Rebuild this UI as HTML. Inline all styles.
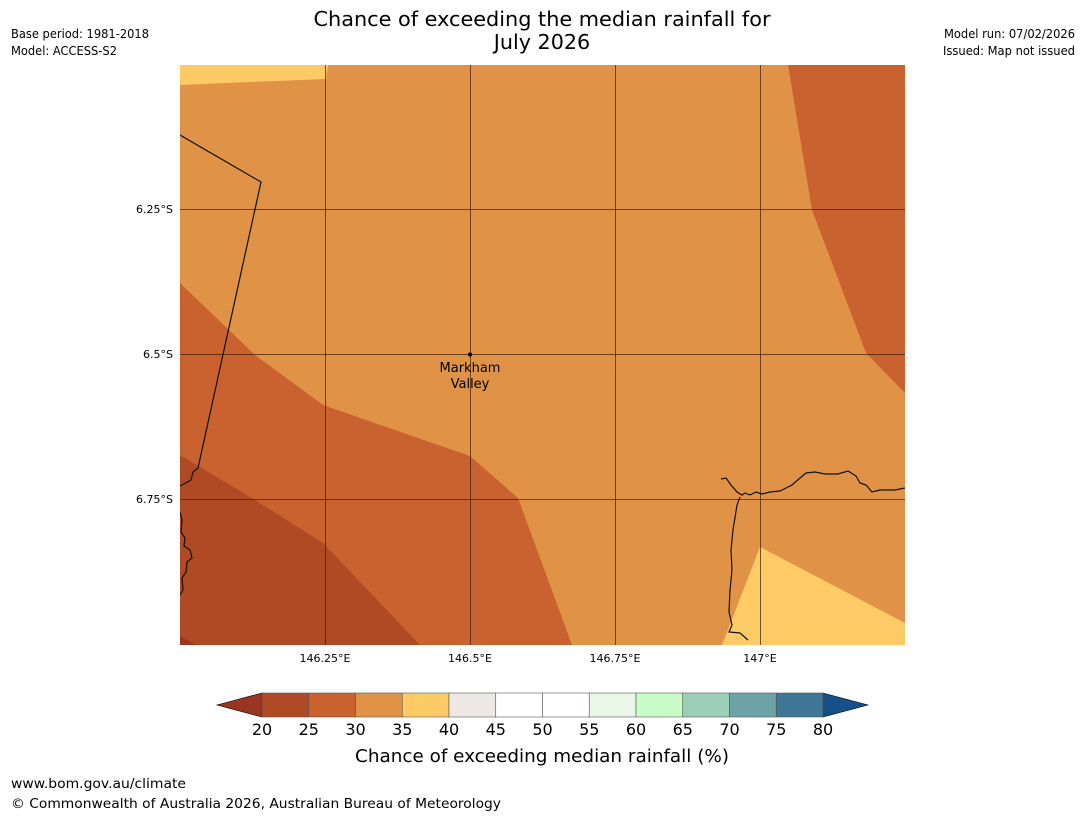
<!DOCTYPE html>
<html><head><meta charset="utf-8">
<style>
body{margin:0;background:#fff;width:1085px;height:816px;overflow:hidden;font-family:"DejaVu Sans","Liberation Sans",sans-serif;}
svg{position:absolute;left:0;top:0}
</style></head>
<body>
<svg width="1085" height="816" viewBox="0 0 1085 816" font-family="DejaVu Sans, Liberation Sans, sans-serif">
<text x="542" y="26" text-anchor="middle" font-size="20.7" textLength="457" lengthAdjust="spacingAndGlyphs" fill="#000">Chance of exceeding the median rainfall for</text>
<text x="542" y="49" text-anchor="middle" font-size="20.7" fill="#000">July 2026</text>
<text x="11" y="38" font-size="12" textLength="138" lengthAdjust="spacingAndGlyphs">Base period: 1981-2018</text>
<text x="11" y="55" font-size="12" textLength="106" lengthAdjust="spacingAndGlyphs">Model: ACCESS-S2</text>
<text x="1075" y="38" font-size="12" text-anchor="end" textLength="131" lengthAdjust="spacingAndGlyphs">Model run: 07/02/2026</text>
<text x="1075" y="55" font-size="12" text-anchor="end" textLength="132" lengthAdjust="spacingAndGlyphs">Issued: Map not issued</text>

<g>
<clipPath id="mc"><rect x="180" y="65" width="725" height="580"/></clipPath>
<g clip-path="url(#mc)">
<rect x="180" y="65" width="725" height="580" fill="#e09346"/>
<polygon points="180,65 328,65 326,79 250,82 180,85" fill="#fdca66"/>
<polygon points="788,65 905,65 905,393 866,353 812,210" fill="#ca6230"/>
<polygon points="180,283 255,355 323,405 470,456 518,498 572,645 180,645" fill="#ca6230"/>
<polygon points="180,455 255,500 323,543 420,645 180,645" fill="#b04a24"/>
<polygon points="180,636 196,645 180,645" fill="#9a3521"/>
<polygon points="760,547 905,623 905,645 722,645" fill="#fdca66"/>
<g stroke="#3a1e08" stroke-opacity="0.7" stroke-width="1">
<line x1="325.5" y1="65" x2="325.5" y2="645"/><line x1="470.5" y1="65" x2="470.5" y2="645"/>
<line x1="615.5" y1="65" x2="615.5" y2="645"/><line x1="760.5" y1="65" x2="760.5" y2="645"/>
<line x1="180" y1="209.5" x2="905" y2="209.5"/><line x1="180" y1="354.5" x2="905" y2="354.5"/><line x1="180" y1="499.5" x2="905" y2="499.5"/>
</g>
<g fill="none" stroke="#111" stroke-width="1.2">
<polyline points="180,135 261,182 198,468 193,472 191,480 180,486"/>
<polyline points="180,512 182,520 181,532 185,538 184,546 190,550 192,558 187,562 186,572 182,578 183,590 180,595"/>
<path d="M721,479 L726,478 L731,485 L737,492 L742,495 L745,493 L750,495 L756,492 L762,494 L770,492 L780,491 L792,485 L800,478 L806,473 L815,472 L825,474 L838,474 L848,471 L856,476 L860,483 L866,485 L872,492 L880,490 L895,490 L905,488"/>
<path d="M740,497 L737,505 L733,530 L731,550 L732,570 L730,590 L729,612 L732,625 L729,632 L740,633 L748,640"/>
</g>
</g>
<circle cx="470" cy="354.5" r="2" fill="#000"/>
<text x="470" y="372" text-anchor="middle" font-size="13">Markham</text>
<text x="470" y="388" text-anchor="middle" font-size="13">Valley</text>
<g font-size="11" fill="#000">
<text x="173" y="213" text-anchor="end">6.25°S</text>
<text x="173" y="358" text-anchor="end">6.5°S</text>
<text x="173" y="503" text-anchor="end">6.75°S</text>
<text x="325" y="662" text-anchor="middle">146.25°E</text>
<text x="470" y="662" text-anchor="middle">146.5°E</text>
<text x="615" y="662" text-anchor="middle">146.75°E</text>
<text x="760" y="662" text-anchor="middle">147°E</text>
</g>
</g>
<g id="cbar"></g>
<text x="542" y="762" text-anchor="middle" font-size="18" textLength="374" lengthAdjust="spacingAndGlyphs">Chance of exceeding median rainfall (%)</text>
<text x="11" y="788" font-size="13.5" textLength="175" lengthAdjust="spacingAndGlyphs">www.bom.gov.au/climate</text>
<text x="11" y="808" font-size="13.5" textLength="490" lengthAdjust="spacingAndGlyphs">© Commonwealth of Australia 2026, Australian Bureau of Meteorology</text>
</svg>
<script>
const bounds=[20,25,30,35,40,45,50,55,60,65,70,75,80];
const colors=["#b04a24","#ca6230","#e09346","#fdca66","#ede8e4","#ffffff","#ffffff","#eaf6e8","#c8fbc8","#9bcfb8","#6da3a6","#3f7696"];
const underColor="#9a3521", overColor="#15508a";
const ns="http://www.w3.org/2000/svg";
const g=document.getElementById('cbar');
const x0=262,x1=823,y0=693,h=24;
const xs=v=>x0+(v-bounds[0])/(bounds[bounds.length-1]-bounds[0])*(x1-x0);
function mk(t,a){const e=document.createElementNS(ns,t);for(const k in a)e.setAttribute(k,a[k]);g.appendChild(e);return e;}
let tri=mk('polygon',{points:`${x0},${y0} ${x0-45},${y0+h/2} ${x0},${y0+h}`,fill:underColor,stroke:'#000','stroke-width':0.6});


let tri2=mk('polygon',{points:`${x1},${y0} ${x1+45},${y0+h/2} ${x1},${y0+h}`,fill:overColor,stroke:'#000','stroke-width':0.6});


for(let i=0;i<colors.length;i++){
 const r=mk('rect',{x:xs(bounds[i]),y:y0,width:xs(bounds[i+1])-xs(bounds[i]),height:h,fill:colors[i],stroke:'#555','stroke-width':0.6});
 
 
}
for(const b of bounds){
 const t=mk('text',{x:xs(b),y:735,'text-anchor':'middle','font-size':16});
 t.textContent=b;
 
 
}
</script>
</body></html>
